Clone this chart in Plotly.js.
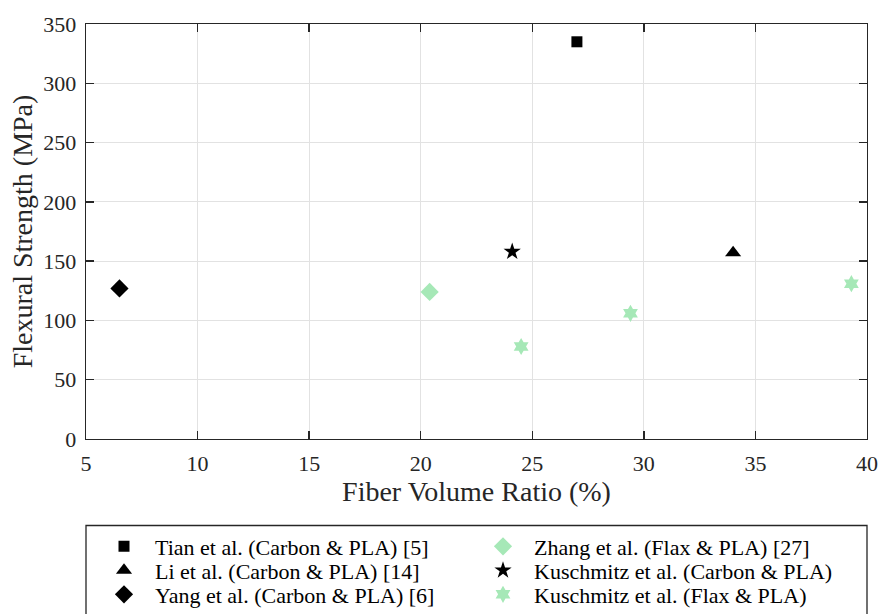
<!DOCTYPE html>
<html>
<head>
<meta charset="utf-8">
<script src="https://cdn.plot.ly/plotly-3.0.1.min.js"></script>
<style>html,body{margin:0;padding:0;background:#fff;}#chart{width:880px;height:614px;}</style>
</head>
<body>
<div id="chart"></div>
<script>
// Data
const seriesNames = [
  "Tian et al. (Carbon & PLA) [5]",
  "Li et al. (Carbon & PLA) [14]",
  "Yang et al. (Carbon & PLA) [6]",
  "Zhang et al. (Flax & PLA) [27]",
  "Kuschmitz et al. (Carbon & PLA)",
  "Kuschmitz et al. (Flax & PLA)"
];
const tianX = [27.0], tianY = [335];
const liX = [34.0], liY = [157];
const yangX = [6.5], yangY = [127];
const zhangX = [20.4], zhangY = [124];
const kuschCX = [24.1], kuschCY = [158];
const kuschFX = [24.5, 29.4, 39.3], kuschFY = [78, 106, 131];
const xTicks = [5, 10, 15, 20, 25, 30, 35, 40];
const yTicks = [0, 50, 100, 150, 200, 250, 300, 350];

const black = "#000000", green = "#a6e8b7";
const FONT = '"Liberation Serif", "Times New Roman", serif';
const PAD = "\u00a0\u00a0";

function tr(name, x, y, symbol, color, size, leg) {
  return {type: "scatter", mode: "markers", name: PAD + name, x: x, y: y, legend: leg,
    marker: {symbol: symbol, color: color, size: size, line: {width: 0}}};
}
const data = [
  tr(seriesNames[0], tianX, tianY, "square", black, 11, "legend"),
  tr(seriesNames[1], liX, liY, "triangle-up", black, 14, "legend2"),
  tr(seriesNames[2], yangX, yangY, "diamond", black, 14, "legend3"),
  tr(seriesNames[3], zhangX, zhangY, "diamond", green, 14, "legend4"),
  tr(seriesNames[4], kuschCX, kuschCY, "star", black, 13, "legend5"),
  tr(seriesNames[5], kuschFX, kuschFY, "hexagram", green, 13, "legend6")
];

const axisCommon = {
  showline: true, mirror: "ticks", linecolor: "#262626", linewidth: 1.3,
  ticks: "inside", ticklen: 8, tickwidth: 1.3, tickcolor: "#262626",
  showgrid: true, gridcolor: "#e2e2e2", gridwidth: 1, zeroline: false,
  tickfont: {family: FONT, size: 22, color: "#262626"}, ticklabelstandoff: 4
};

// plot area: x 86..867, y 24..439 (px)
const rowY = [546.5, 570.5, 594.5].map(p => (439 - p) / 415);
const colX = [(104 - 86) / 781, (483 - 86) / 781];
function leg(cx, cy) {
  return {x: cx, xanchor: "left", y: cy, yanchor: "middle", orientation: "v",
    font: {family: FONT, size: 22, color: "#000"}, bgcolor: "rgba(0,0,0,0)",
    borderwidth: 0, itemsizing: "trace"};
}

const layout = {
  width: 880, height: 614,
  margin: {l: 86, r: 13, t: 24, b: 175, autoexpand: false},
  paper_bgcolor: "#ffffff", plot_bgcolor: "#ffffff",
  font: {family: FONT, color: "#262626"},
  xaxis: Object.assign({}, axisCommon, {
    range: [5, 40], tickvals: xTicks, ticktext: xTicks.map(String),
    title: {text: "Fiber Volume Ratio (%)", font: {family: FONT, size: 28, color: "#262626"}, standoff: 6}
  }),
  yaxis: Object.assign({}, axisCommon, {
    range: [0, 350], tickvals: yTicks, ticktext: yTicks.map(String),
    title: {text: "Flexural Strength (MPa)", font: {family: FONT, size: 28, color: "#262626"}, standoff: 2}
  }),
  showlegend: true,
  legend: leg(colX[0], rowY[0]),
  legend2: leg(colX[0], rowY[1]),
  legend3: leg(colX[0], rowY[2]),
  legend4: leg(colX[1], rowY[0]),
  legend5: leg(colX[1], rowY[1]),
  legend6: leg(colX[1], rowY[2]),
  shapes: [{
    type: "rect", xref: "paper", yref: "paper", x0: 0, x1: 1, y0: (439 - 525.5) / 415, y1: -0.5,
    line: {color: "#262626", width: 1.3}, fillcolor: "rgba(0,0,0,0)"
  }]
};

Plotly.newPlot("chart", data, layout, {displayModeBar: false, staticPlot: true});
</script>
</body>
</html>
